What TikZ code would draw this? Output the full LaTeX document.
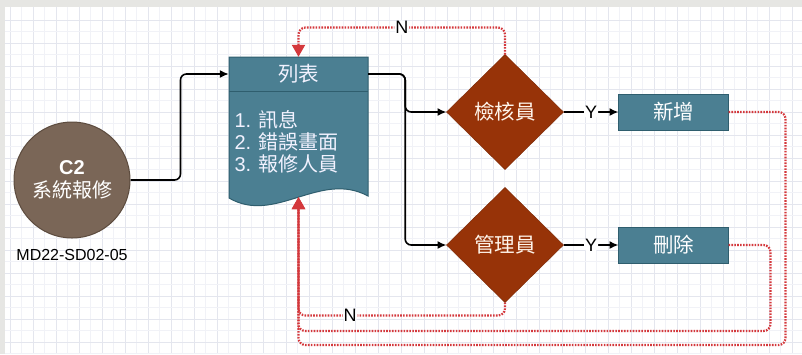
\documentclass[tikz,border=0pt]{standalone}
\usepackage{fontspec}
\setmainfont{Liberation Sans}
\newfontfamily\cjk{Noto Sans CJK TC}
\usetikzlibrary{positioning,arrows.meta,shapes.geometric}

\definecolor{docblue}{HTML}{4B7F92}
\definecolor{docedge}{HTML}{2F5E6E}
\definecolor{startbrown}{HTML}{7A6657}
\definecolor{startedge}{HTML}{5C4B3E}
\definecolor{rust}{HTML}{973308}
\definecolor{rustedge}{HTML}{7A2806}
\definecolor{backred}{HTML}{D4383C}
\definecolor{outerbg}{HTML}{E6E6E3}
\definecolor{gridminor}{HTML}{F1F2F7}
\definecolor{gridmajor}{HTML}{E4E6EE}

\begin{document}
\begin{tikzpicture}[
x=1pt, y=-1pt,
>=Latex,
startnode/.style={
circle,
draw=startedge,
fill=startbrown,
line width=1pt,
minimum size=116pt,
inner sep=0pt,
align=center,
text=white,
font=\fontsize{20}{23}\selectfont
},
docnode/.style={
minimum width=139pt,
minimum height=140pt,
inner sep=0pt
},
doctext/.style={
text=white!95!blue,
align=left,
font=\fontsize{20}{22}\selectfont
},
decision/.style={
diamond,
draw=rustedge,
fill=rust,
minimum width=117pt,
minimum height=115pt,
inner sep=0pt,
outer sep=0pt,
text=orange!8,
font=\cjk\fontsize{20.5}{24}\selectfont
},
actbox/.style={
draw=docedge,
fill=docblue,
line width=1pt,
minimum width=110pt,
minimum height=36pt,
inner sep=0pt,
outer sep=0pt,
text=white,
font=\cjk\fontsize{20.5}{24}\selectfont
},
flow/.style={
line width=1.6pt,
rounded corners=6pt,
-{Latex[length=9pt,width=8pt]}
},
back/.style={
draw=backred,
line width=2.2pt,
dash pattern={on 1.6pt off 1.3pt},
rounded corners=7pt,
-{Triangle[length=12pt,width=13pt,fill=backred]}
},
yn/.style={
fill=white,
inner sep=1pt,
font=\fontsize{18}{20}\selectfont
}
]

\useasboundingbox (0,0) rectangle (802,354);

%%%%%%%%%%%%%%%%%%%%%%%%%%%%%%%%%%%%%%%%%%%%%
% Canvas
%%%%%%%%%%%%%%%%%%%%%%%%%%%%%%%%%%%%%%%%%%%%%

\fill[outerbg] (0,0) rectangle (802,354);
\fill[white] (5,7) rectangle (802,354);
\foreach \gx in {10,33,...,802} {
\draw[gridminor, line width=0.8pt] (\gx+11.5,7) -- (\gx+11.5,354);
\draw[gridmajor, line width=0.9pt] (\gx,7) -- (\gx,354);
}
\foreach \gy in {20,43,...,354} {
\draw[gridminor, line width=0.8pt] (5,\gy+11.5) -- (802,\gy+11.5);
\draw[gridmajor, line width=0.9pt] (5,\gy) -- (802,\gy);
}

%%%%%%%%%%%%%%%%%%%%%%%%%%%%%%%%%%%%%%%%%%%%%
% Start
%%%%%%%%%%%%%%%%%%%%%%%%%%%%%%%%%%%%%%%%%%%%%

\node[startnode] (c2) at (72,180)
{\textbf{C2}\\
{\cjk 系統報修}};

\node[below=7pt of c2, font=\fontsize{16}{18}\selectfont] (code)
{MD22-SD02-05};

%%%%%%%%%%%%%%%%%%%%%%%%%%%%%%%%%%%%%%%%%%%%%
% List document
%%%%%%%%%%%%%%%%%%%%%%%%%%%%%%%%%%%%%%%%%%%%%

\node[docnode] (list) at (298.5,127) {};

\filldraw[fill=docblue, draw=docedge, line width=1pt]
(229,57) -- (368,57) -- (368,196)
.. controls (320,170) and (275,225) .. (229,198) -- cycle;
\draw[docedge, line width=1pt] (229,91) -- (368,91);

\node[doctext, font=\cjk\fontsize{20.5}{24}\selectfont] (listtitle) at (298.5,74)
{列表};

\node[doctext, anchor=west] (listitems) at (231,142)
{1. {\cjk 訊息}\\
2. {\cjk 錯誤畫面}\\
3. {\cjk 報修人員}};

%%%%%%%%%%%%%%%%%%%%%%%%%%%%%%%%%%%%%%%%%%%%%
% Decisions and actions
%%%%%%%%%%%%%%%%%%%%%%%%%%%%%%%%%%%%%%%%%%%%%

\node[decision] (chk) at (505,112)
{檢核員};

\node[decision, below=18pt of chk] (mgr)
{管理員};

\node[actbox, right=55pt of chk] (add)
{新增};

\node[actbox, right=55pt of mgr] (del)
{刪除};

\coordinate (low1) at (0,345);
\coordinate (low2) at (0,331);

%%%%%%%%%%%%%%%%%%%%%%%%%%%%%%%%%%%%%%%%%%%%%
% Connections
%%%%%%%%%%%%%%%%%%%%%%%%%%%%%%%%%%%%%%%%%%%%%

\draw[flow] (c2.east) -- ++(50,0) |- (list.west |- listtitle);

\draw[flow] (list.east |- listtitle) -- ++(37,0) |- (chk.west);

\draw[flow] (list.east |- listtitle) -- ++(37,0) |- (mgr.west);

\draw[flow] (chk.east) -- node[yn] {Y} (add.west);

\draw[flow] (mgr.east) -- node[yn] {Y} (del.west);

\draw[back] (chk.north) -- ++(0,-27) -| node[yn, pos=0.25] {N} (list.north);

\draw[back] (mgr.south) -- ++(0,13) -| node[yn, pos=0.375] {N} (list.south);

\draw[back] (del.east) -- ++(42,0) |- (list.south |- low2) -- (list.south);

\draw[back] (add.east) -- ++(57,0) |- (list.south |- low1) -- (list.south);

\end{tikzpicture}
\end{document}
